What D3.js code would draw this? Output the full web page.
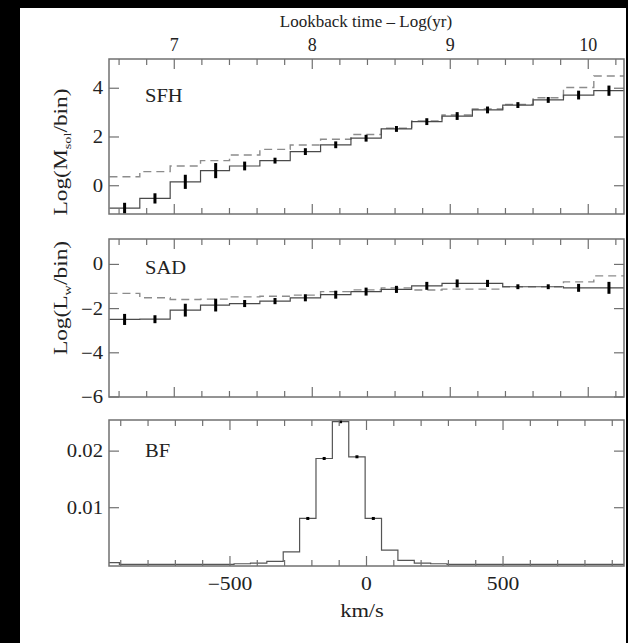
<!DOCTYPE html>
<html>
<head>
<meta charset="utf-8">
<script src="https://cdn.jsdelivr.net/npm/d3@7"></script>
<style>
  body { margin: 0; background: #000; }
</style>
</head>
<body>
<script>
const W = 628, H = 643;

// log lookback time bins (centres) shared by SFH and SAD
const ageBins = [6.64, 6.86, 7.08, 7.30, 7.51, 7.73, 7.95, 8.17, 8.39, 8.61, 8.83, 9.05, 9.27, 9.49, 9.71, 9.93, 10.15];
const ageBinWidth = 0.2195;

const sfhFit = [-0.92, -0.52, 0.16, 0.62, 0.81, 1.03, 1.40, 1.68, 1.95, 2.33, 2.63, 2.86, 3.11, 3.31, 3.52, 3.72, 3.90];
const sfhErr = [0.22, 0.21, 0.29, 0.31, 0.18, 0.12, 0.14, 0.14, 0.14, 0.12, 0.14, 0.16, 0.14, 0.12, 0.12, 0.18, 0.21];
const sfhInput = [0.37, 0.58, 0.81, 1.03, 1.26, 1.49, 1.67, 1.91, 2.10, 2.36, 2.66, 2.90, 3.15, 3.34, 3.61, 4.03, 4.50];

const sadFit = [-2.49, -2.48, -2.07, -1.84, -1.77, -1.66, -1.51, -1.37, -1.23, -1.13, -0.97, -0.86, -0.86, -1.01, -1.01, -1.06, -1.06];
const sadErr = [0.25, 0.18, 0.29, 0.29, 0.16, 0.14, 0.16, 0.18, 0.18, 0.16, 0.18, 0.18, 0.16, 0.11, 0.11, 0.18, 0.27];
const sadInput = [-1.31, -1.51, -1.59, -1.57, -1.47, -1.44, -1.39, -1.23, -1.15, -1.06, -1.16, -1.12, -1.12, -1.01, -1.01, -0.79, -0.52];

// broadening function, km/s bins
const bfVel = [-935, -875, -815, -755, -695, -635, -575, -515, -455, -395, -335, -275, -215, -155, -95, -35, 25, 85, 145, 205, 265, 325, 385, 445, 505, 565, 625, 685, 745, 805, 865, 925];
const bfVal = [0.0003, 0, 0, 0, 0, 0, 0, 0, 0.0001, 0.0002, 0.0005, 0.0022, 0.0081, 0.0187, 0.0252, 0.0190, 0.0081, 0.0025, 0.0007, 0.0002, 0.0001, 0, 0, 0, 0, 0, 0, 0, 0, 0, 0, 0];
const bfBinWidth = 60;
const bfDots = [-215, -155, -95, -35, 25];

const ageMajor = [7, 8, 9, 10];
const ageMinor = [6.6, 6.8, 7.2, 7.4, 7.6, 7.8, 8.2, 8.4, 8.6, 8.8, 9.2, 9.4, 9.6, 9.8, 10.2];
const velMajor = [-500, 0, 500];
const velMinor = [-900, -800, -700, -600, -400, -300, -200, -100, 100, 200, 300, 400, 600, 700, 800, 900];

const left = 109, right = 624;
const frameColor = '#707070';
const serif = "'Liberation Serif', 'Times New Roman', Times, 'DejaVu Serif', serif";

const svg = d3.select('body').append('svg')
    .attr('width', W)
    .attr('height', H)
    .attr('font-family', serif)
    .style('font-family', serif);

svg.append('rect').attr('x', 20).attr('y', 8).attr('width', 606).attr('height', H - 8).attr('fill', '#fff');

const xAge = d3.scaleLinear().domain([6.527, 10.259]).range([left, right]);
const xVel = d3.scaleLinear().domain([-943, 943]).range([left, right]);

const minus = v => d3.format('d')(v).replace('-', '\u2212');

// text placed at (x, y), stretched horizontally by sx (the original font is wider)
function label(parent, x, y, txt, size, sx, anchor) {
    return parent.append('text')
        .attr('transform', `translate(${x},${y}) scale(${sx},1)`)
        .attr('text-anchor', anchor || 'start')
        .attr('font-size', size)
        .attr('fill', '#222')
        .text(txt);
}

const panels = [
    { top: 59, bottom: 214, domain: [-1.16, 5.2], yTicks: [0, 2, 4], fmt: minus, label: 'SFH', x: xAge,
      fit: sfhFit, err: sfhErr, input: sfhInput },
    { top: 239, bottom: 397, domain: [-6, 1.15], yTicks: [-6, -4, -2, 0], fmt: minus, label: 'SAD', x: xAge,
      fit: sadFit, err: sadErr, input: sadInput },
    { top: 420, bottom: 566, domain: [-0.0003, 0.0255], yTicks: [0.01, 0.02], fmt: d3.format('.2f'), label: 'BF', x: xVel }
];

function stepPoints(centres, values, width) {
    const pts = centres.map((c, i) => [c - width / 2, values[i]]);
    pts.push([centres[centres.length - 1] + width / 2, values[values.length - 1]]);
    return pts;
}

panels.forEach((p, k) => {
    const y = d3.scaleLinear().domain(p.domain).range([p.bottom, p.top]);
    const g = svg.append('g');
    const clipId = 'clip' + k;
    svg.append('clipPath').attr('id', clipId).append('rect')
        .attr('x', left).attr('y', p.top).attr('width', right - left).attr('height', p.bottom - p.top);

    const line = d3.line().x(d => p.x(d[0])).y(d => y(d[1])).curve(d3.curveStepAfter);
    const plot = g.append('g').attr('clip-path', `url(#${clipId})`);

    if (k < 2) {
        plot.append('path')
            .attr('d', line(stepPoints(ageBins, p.input, ageBinWidth)))
            .attr('fill', 'none').attr('stroke', '#8c8c8c').attr('stroke-width', 1.4)
            .attr('stroke-dasharray', '8,5');
        plot.append('path')
            .attr('d', line(stepPoints(ageBins, p.fit, ageBinWidth)))
            .attr('fill', 'none').attr('stroke', '#4a4a4a').attr('stroke-width', 1.2);
        plot.selectAll('rect.err').data(ageBins).enter().append('rect')
            .attr('class', 'err')
            .attr('x', d => p.x(d) - 1.5)
            .attr('width', 3)
            .attr('y', (d, i) => y(p.fit[i] + p.err[i]))
            .attr('height', (d, i) => y(p.fit[i] - p.err[i]) - y(p.fit[i] + p.err[i]))
            .attr('fill', '#000');
    } else {
        plot.append('path')
            .attr('d', line(stepPoints(bfVel, bfVal, bfBinWidth)))
            .attr('fill', 'none').attr('stroke', '#555').attr('stroke-width', 1.2);
        plot.selectAll('rect.dot').data(bfDots).enter().append('rect')
            .attr('x', d => p.x(d) - 1.5)
            .attr('y', d => y(bfVal[bfVel.indexOf(d)]) - 1.5)
            .attr('width', 3).attr('height', 3)
            .attr('fill', '#000');
    }

    // frame
    g.append('rect')
        .attr('x', left).attr('y', p.top)
        .attr('width', right - left).attr('height', p.bottom - p.top)
        .attr('fill', 'none').attr('stroke', frameColor).attr('stroke-width', 1.5);

    // x ticks on top and bottom, pointing inward
    const major = k < 2 ? ageMajor : velMajor;
    const minor = k < 2 ? ageMinor : velMinor;
    const xTicks = major.map(v => [v, 10]).concat(minor.map(v => [v, 6]));
    g.selectAll('line.xt-top').data(xTicks).enter().append('line')
        .attr('x1', d => p.x(d[0])).attr('x2', d => p.x(d[0]))
        .attr('y1', p.top).attr('y2', d => p.top + d[1])
        .attr('stroke', frameColor).attr('stroke-width', 1.2);
    g.selectAll('line.xt-bot').data(xTicks).enter().append('line')
        .attr('x1', d => p.x(d[0])).attr('x2', d => p.x(d[0]))
        .attr('y1', p.bottom).attr('y2', d => p.bottom - d[1])
        .attr('stroke', frameColor).attr('stroke-width', 1.2);

    // y ticks left and right
    g.selectAll('line.yl').data(p.yTicks).enter().append('line')
        .attr('x1', left).attr('x2', left + 10)
        .attr('y1', d => y(d)).attr('y2', d => y(d))
        .attr('stroke', frameColor).attr('stroke-width', 1.2);
    g.selectAll('line.yr').data(p.yTicks).enter().append('line')
        .attr('x1', right).attr('x2', right - 10)
        .attr('y1', d => y(d)).attr('y2', d => y(d))
        .attr('stroke', frameColor).attr('stroke-width', 1.2);
    p.yTicks.forEach(v => label(g, left - 6, y(v) + 6, p.fmt(v), 18, 1.15, 'end'));

    label(g, 145, p.top + [43, 35, 37][k], p.label, 18, 1.14);
});

// top axis labels (log lookback time)
ageMajor.forEach(v => label(svg, xAge(v), 51, v, 18, 1.0, 'middle'));
label(svg, 366, 27, 'Lookback time \u2013 Log(yr)', 17, 1.0, 'middle');

// bottom axis labels (km/s)
velMajor.forEach(v => label(svg, xVel(v), 590, minus(v), 18, 1.2, 'middle'));
label(svg, 362, 617, 'km/s', 18, 1.25, 'middle');

// y axis titles
function yTitle(cy, main, sub) {
    const t = svg.append('text')
        .attr('transform', `translate(67,${cy}) rotate(-90) scale(1.3,1)`)
        .attr('text-anchor', 'middle').attr('font-size', 18).attr('fill', '#222');
    t.append('tspan').text('Log(' + main);
    t.append('tspan').attr('font-size', 11).attr('dy', 4).text(sub);
    t.append('tspan').attr('dy', -4).text('/bin)');
}
yTitle(152, 'M', 'sol');
yTitle(298, 'L', 'w');
</script>
</body>
</html>
